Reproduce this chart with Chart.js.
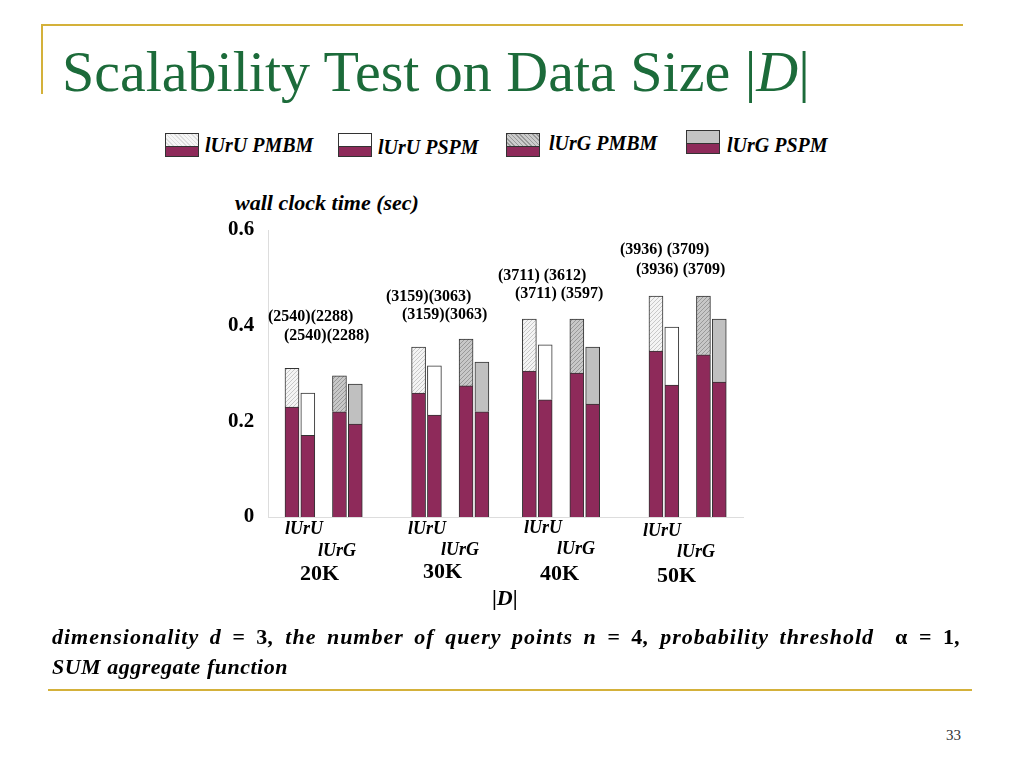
<!DOCTYPE html>
<html><head><meta charset="utf-8">
<script src="https://cdn.jsdelivr.net/npm/chart.js@4/dist/chart.umd.min.js"></script>
<style>
body{margin:0;width:1024px;height:768px;position:relative;background:#fff;font-family:"Liberation Serif",serif;overflow:hidden}
.a{position:absolute;white-space:nowrap}
.b{font-weight:bold}
.i{font-style:italic}
.lb{position:absolute;width:34px;height:24px;border:1px solid #333;box-sizing:border-box}
.lb div{position:absolute;left:0;right:0;bottom:0;height:9px;background:#8e2a5a;border-top:1px solid #333}
canvas{position:absolute;left:0;top:0}
</style></head><body>
<div class="a" style="left:42px;top:24px;width:921px;height:2px;background:#d4b13a"></div>
<div class="a" style="left:41px;top:24px;width:2px;height:70px;background:#d4b13a"></div>
<div class="a" style="left:48px;top:689px;width:924px;height:2px;background:#d4b13a"></div>
<div class="a" style="left:62px;top:38px;font-size:58px;color:#1c6b3a">Scalability Test on Data Size |<span class="i">D</span>|</div>
<div class="a" style="left:946px;top:727px;font-size:15px;color:#333">33</div>

<div class="lb" style="left:165px;top:133px;background:repeating-linear-gradient(45deg,#ddd 0 1px,#f6f6f6 1px 3px)"><div></div></div>
<div class="a b i" style="left:205px;top:134px;font-size:20px">lUrU PMBM</div>
<div class="lb" style="left:338px;top:133px;background:#fff"><div></div></div>
<div class="a b i" style="left:378px;top:136px;font-size:20px">lUrU PSPM</div>
<div class="lb" style="left:506px;top:133px;background:repeating-linear-gradient(45deg,#999 0 1px,#ccc 1px 3px)"><div></div></div>
<div class="a b i" style="left:549px;top:132px;font-size:20px">lUrG PMBM</div>
<div class="lb" style="left:686px;top:130px;background:#c4c4c4"><div></div></div>
<div class="a b i" style="left:727px;top:134px;font-size:20px">lUrG PSPM</div>

<div class="a b i" style="left:235px;top:190px;font-size:22px">wall clock time (sec)</div>

<canvas id="c" width="1024" height="768"></canvas>

<div class="a b" style="left:268px;top:307px;font-size:16px">(2540)(2288)</div>
<div class="a b" style="left:284px;top:326px;font-size:16px">(2540)(2288)</div>
<div class="a b" style="left:386px;top:287px;font-size:16px">(3159)(3063)</div>
<div class="a b" style="left:402px;top:305px;font-size:16px">(3159)(3063)</div>
<div class="a b" style="left:498px;top:266px;font-size:16px">(3711) (3612)</div>
<div class="a b" style="left:515px;top:284px;font-size:16px">(3711) (3597)</div>
<div class="a b" style="left:620px;top:240px;font-size:16px">(3936) (3709)</div>
<div class="a b" style="left:636px;top:260px;font-size:16px">(3936) (3709)</div>

<div class="a b i" style="left:285px;top:518px;font-size:18px">lUrU</div>
<div class="a b i" style="left:318px;top:540px;font-size:18px">lUrG</div>
<div class="a b" style="left:300px;top:560px;font-size:22px">20K</div>
<div class="a b i" style="left:408px;top:518px;font-size:18px">lUrU</div>
<div class="a b i" style="left:441px;top:539px;font-size:18px">lUrG</div>
<div class="a b" style="left:423px;top:558px;font-size:22px">30K</div>
<div class="a b i" style="left:524px;top:517px;font-size:18px">lUrU</div>
<div class="a b i" style="left:557px;top:538px;font-size:18px">lUrG</div>
<div class="a b" style="left:540px;top:560px;font-size:22px">40K</div>
<div class="a b i" style="left:643px;top:520px;font-size:18px">lUrU</div>
<div class="a b i" style="left:677px;top:541px;font-size:18px">lUrG</div>
<div class="a b" style="left:657px;top:562px;font-size:22px">50K</div>
<div class="a b" style="left:492px;top:585px;font-size:22px">|<span class="i">D</span>|</div>

<div class="a b i" style="left:52px;top:624px;font-size:22px;letter-spacing:1px;word-spacing:4px">dimensionality d = <span style="font-style:normal">3</span>, the number of query points n = <span style="font-style:normal">4</span>, probability threshold &nbsp;<span style="font-style:normal">α = 1</span>,</div>
<div class="a b i" style="left:52px;top:654px;font-size:22px;letter-spacing:0.5px">SUM aggregate function</div>

<script>
const sizes=["20K","30K","40K","50K"];
const seriesNames=["lUrU PMBM","lUrU PSPM","lUrG PMBM","lUrG PSPM"];
// bottom (maroon) part and total height per series, per data size
const uPMBMbase=[0.23,0.259,0.305,0.347];
const uPMBMtotal=[0.311,0.355,0.414,0.462];
const uPSPMbase=[0.171,0.213,0.245,0.276];
const uPSPMtotal=[0.259,0.316,0.36,0.397];
const gPMBMbase=[0.22,0.274,0.301,0.339];
const gPMBMtotal=[0.295,0.372,0.414,0.462];
const gPSPMbase=[0.194,0.22,0.236,0.282];
const gPSPMtotal=[0.278,0.324,0.355,0.414];
const yTicks=[0,0.2,0.4,0.6];

const ctx=document.getElementById('c').getContext('2d');
function pat(bg,fg){const p=document.createElement('canvas');p.width=4;p.height=4;const g=p.getContext('2d');g.fillStyle=bg;g.fillRect(0,0,4,4);g.fillStyle=fg;g.fillRect(0,3,1,1);g.fillRect(1,2,1,1);g.fillRect(2,1,1,1);g.fillRect(3,0,1,1);return ctx.createPattern(p,'repeat');}
const topFill=[pat('#f4f4f4','#c8c8c8'),'#ffffff',pat('#c8c8c8','#999'),'#c0c0c0'];
const bases=[uPMBMbase,uPSPMbase,gPMBMbase,gPSPMbase];
const totals=[uPMBMtotal,uPSPMtotal,gPMBMtotal,gPSPMtotal];
const slotsPerGroup=[[1,2,4,5],[9,10,12,13],[16,17,19,20],[24,25,27,28]];
const N=30,labels=Array(N).fill('');
const lower=Array(N).fill(null),upper=Array(N).fill(null),upC=Array(N).fill('#fff');
sizes.forEach((s,gi)=>seriesNames.forEach((n,si)=>{const k=slotsPerGroup[gi][si];lower[k]=bases[si][gi];upper[k]=+(totals[si][gi]-bases[si][gi]).toFixed(3);upC[k]=topFill[si];}));
new Chart(ctx,{type:'bar',data:{labels,datasets:[
{data:lower,backgroundColor:'#8e2a5a',borderColor:'#333',borderWidth:1,barThickness:14},
{data:upper,backgroundColor:upC,borderColor:'#333',borderWidth:1,barThickness:14}]},
options:{responsive:false,animation:false,plugins:{legend:{display:false},tooltip:{enabled:false}},
layout:{padding:{left:222,right:281,top:230,bottom:243}},
scales:{x:{stacked:true,grid:{display:false},border:{color:'#ddd'},ticks:{display:false}},
y:{stacked:true,min:0,max:0.6,grid:{display:false},border:{color:'#ddd'},
afterBuildTicks:a=>{a.ticks=yTicks.map(v=>({value:v}));},
ticks:{color:'#000',font:{family:'Liberation Serif',size:21,weight:'bold'},padding:6,callback:v=>v===0?'0':v}}}}});
</script>
</body></html>
